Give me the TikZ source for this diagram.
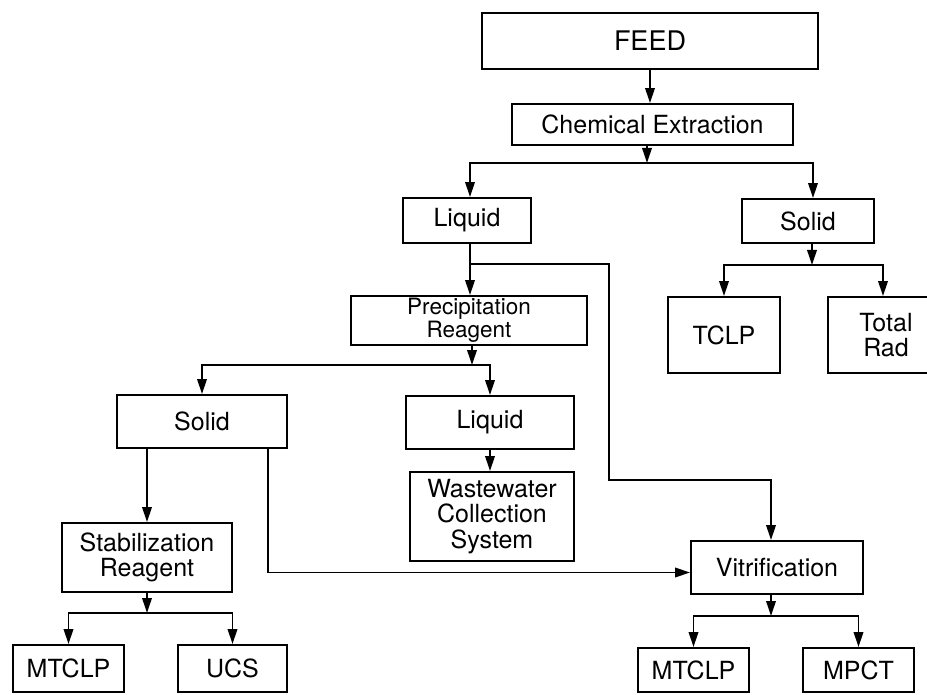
\documentclass[tikz,border=0pt]{standalone}
\usepackage{fontspec}
\setmainfont{TeX Gyre Heros}
\usetikzlibrary{arrows.meta}
\begin{document}
\begin{tikzpicture}[x=1pt,y=-1pt,
  box/.style={draw, line width=1.9pt, inner sep=0pt, align=center,
    font=\fontsize{25}{25.5}\selectfont},
  big/.style={font=\fontsize{27}{28}\selectfont},
  small/.style={font=\fontsize{22.5}{23}\selectfont},
  arr/.style={line width=1.9pt, -{Triangle[length=15pt,width=9.5pt]}},
  ln/.style={line width=1.9pt}]
\useasboundingbox (0,0) rectangle (927,695);
\fill[white] (0,0) rectangle (927,695);
\clip (0,0) rectangle (927,695);

% boxes
\node[box, big, minimum width=336pt, minimum height=56pt] (feed) at (650,41) {FEED};
\node[box, minimum width=281pt, minimum height=41pt] (chem) at (652.5,124.5) {Chemical Extraction};
\node[box, minimum width=128pt, minimum height=45pt] (liq1) at (467,220.5) {Liquid};
\node[box, minimum width=132pt, minimum height=44pt] (solR) at (808,221) {Solid};
\node[box, small, minimum width=236pt, minimum height=49pt] (prec) at (469,320.5) {Precipitation\\Reagent};
\node[box, minimum width=112pt, minimum height=76pt] (tclp) at (724,335) {TCLP};
\node[box, minimum width=116pt, minimum height=76pt] (trad) at (886,335) {Total\\Rad};
\node[box, minimum width=170pt, minimum height=53pt] (solL) at (202,421.5) {Solid};
\node[box, minimum width=168pt, minimum height=53pt] (liqM) at (490,422.5) {Liquid};
\node[box, minimum width=164pt, minimum height=89pt] (waste) at (492,516.5) {Wastewater\\Collection\\System};
\node[box, minimum width=170pt, minimum height=69pt] (stab) at (147,557.5) {Stabilization\\Reagent};
\node[box, minimum width=172pt, minimum height=53pt] (vitr) at (777,567.5) {Vitrification};
\node[box, minimum width=111pt, minimum height=47pt] (mtL) at (68.5,668.5) {MTCLP};
\node[box, minimum width=109pt, minimum height=47pt] (ucs) at (232.5,668.5) {UCS};
\node[box, minimum width=111pt, minimum height=44pt] (mtR) at (693.5,670) {MTCLP};
\node[box, minimum width=111pt, minimum height=44pt] (mpct) at (858.5,670) {MPCT};

% branch points
\coordinate (b1) at (647,163);
\coordinate (b2) at (470,264);
\coordinate (c1) at (609,264);
\coordinate (c2) at (609,480);
\coordinate (b3) at (472,365);
\coordinate (b4) at (147,613);
\coordinate (b5) at (812,265);
\coordinate (b6) at (771,616);

% connectors
\draw[arr] (feed.south) -- (feed.south |- chem.north);
\draw[arr] (chem.south -| b1) -- (b1);
\draw[arr] (b1) -| ([xshift=3pt]liq1.north);
\draw[arr] (b1) -| ([xshift=5pt]solR.north);

\draw[ln] (liq1.south -| b2) -- (b2);
\draw[arr] (b2) -- (b2 |- prec.north);
\draw[arr] (b2) -- (c1) -- (c2) -| ([xshift=-6pt]vitr.north);

\draw[arr] (prec.south -| b3) -- (b3);
\draw[arr] (b3) -| (solL.north);
\draw[arr] (b3) -| (liqM.north);
\draw[arr] (liqM.south) -- (liqM.south |- waste.north);

\draw[arr] (solL.south -| stab.north) -- (stab.north);
\draw[arr] ([xshift=66pt]solL.south) |- ([yshift=-5pt]vitr.west);

\draw[arr] (stab.south) -- (b4);
\draw[arr] (b4) -| (mtL.north);
\draw[arr] (b4) -| (ucs.north);

\draw[arr] (solR.south -| b5) -- (b5);
\draw[arr] (b5) -| (tclp.north);
\draw[arr] (b5) -| ([xshift=-3pt]trad.north);

\draw[arr] (vitr.south -| b6) -- (b6);
\draw[arr] (b6) -| (mtR.north);
\draw[arr] (b6) -| (mpct.north);
\end{tikzpicture}
\end{document}
